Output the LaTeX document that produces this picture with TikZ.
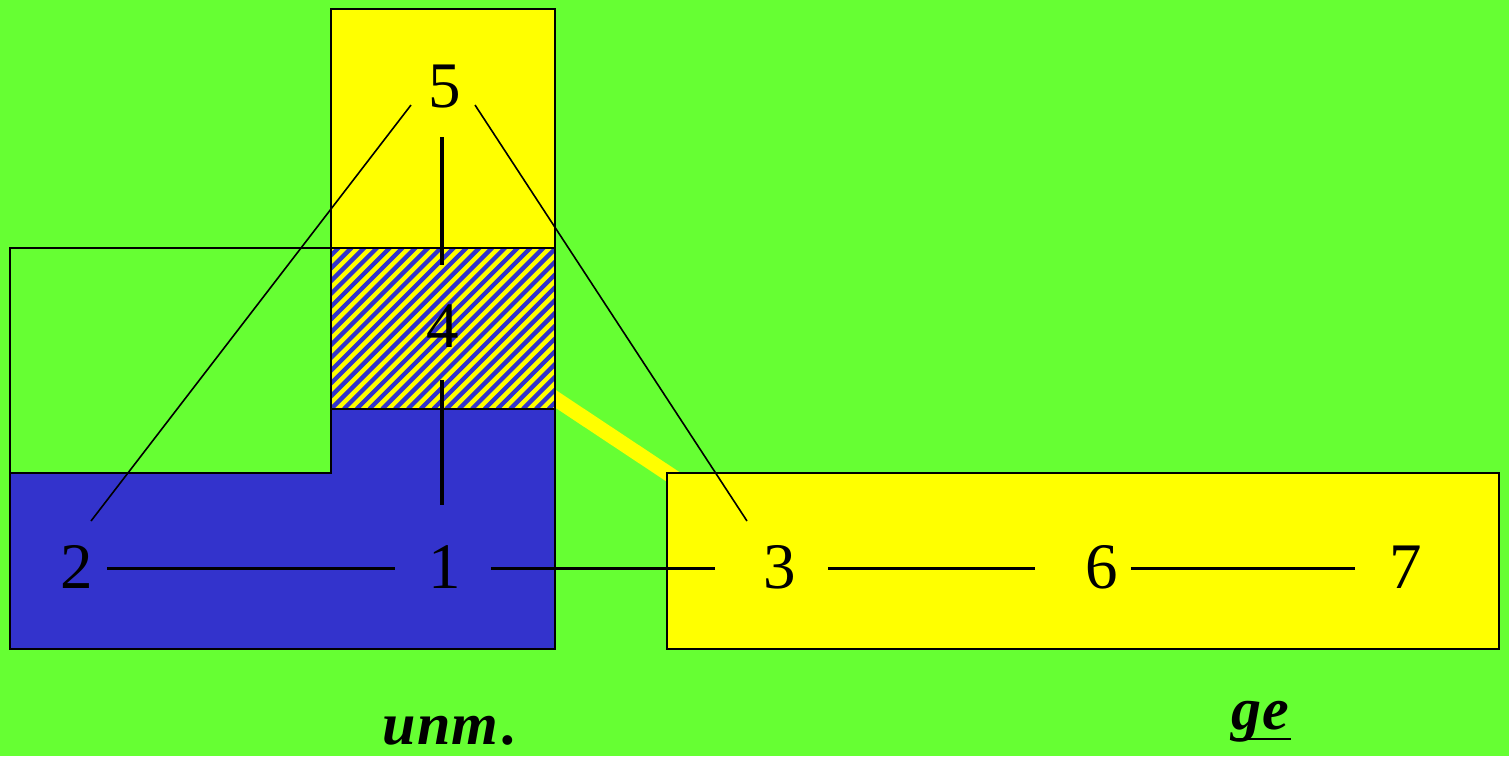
\documentclass[tikz,border=0pt]{standalone}
\usepackage{fontspec}
\setmainfont{Liberation Serif}
\usetikzlibrary{calc}
\definecolor{bggreen}{HTML}{66FF33}
\definecolor{boxyellow}{HTML}{FFFF00}
\definecolor{boxblue}{HTML}{3333CC}
\tikzset{
  digit/.style={inner sep=0pt, font=\fontsize{65}{72}\selectfont},
  thinlink/.style={line width=1.6pt},
  hlink/.style={line width=3pt},
  vlink/.style={line width=3.2pt},
  boxline/.style={line width=2.2pt},
  lbl/.style={inner sep=0pt, anchor=base, font=\fontsize{60}{66}\selectfont\bfseries\itshape}
}
\begin{document}
\begin{tikzpicture}[x=1pt,y=-1pt]
\fill[bggreen] (0,0) rectangle (1509,756);
\useasboundingbox (0,0) rectangle (1509,756);
% yellow band
\draw[boxyellow, line width=15pt] (500,362) -- (720,508);
% outline rectangle
\draw[line width=1.4pt] (10,473) -- (10,248) -- (331,248);
% blue L shape
\filldraw[fill=boxblue, boxline] (10,473) -- (331,473) -- (331,409) -- (555,409) -- (555,649) -- (10,649) -- cycle;
% top yellow box
\filldraw[fill=boxyellow, boxline] (331,9) rectangle (555,248);
% hatched box
\fill[boxyellow] (331,248) rectangle (555,409);
\begin{scope}
  \clip (331,248) rectangle (555,409);
  \foreach \i in {-15,...,22} {
    \draw[boxblue, line width=4.3pt] ({331+\i*12.8},409) -- ++(180,-180);
  }
\end{scope}
\draw[boxline] (331,248) rectangle (555,409);
% right yellow box
\filldraw[fill=boxyellow, boxline] (667,473) rectangle (1499,649);
% digits
\node[digit] (n5) at (445,87) {5};
\node[digit] (n4) at (443,326) {4};
\node[digit] (n2) at (77,567) {2};
\node[digit] (n1) at (445,567) {1};
\node[digit] (n3) at (780,567) {3};
\node[digit] (n6) at (1102,567) {6};
\node[digit] (n7) at (1406,567) {7};
% connectors
\draw[thinlink] ($(n5)+(-34,18)$) -- ($(n2)+(14,-46)$);
\draw[thinlink] ($(n5)+(30,18)$) -- ($(n3)+(-33,-46)$);
\draw[vlink] ($(n5)+(-3,50)$) -- ($(n4)+(-1,-61)$);
\draw[vlink] ($(n4)+(-1,54)$) -- ($(n1)+(-3,-62)$);
\draw[hlink] ($(n2)+(30,1)$) -- ($(n1)+(-50,1)$);
\draw[hlink] ($(n1)+(46,1)$) -- ($(n3)+(-65,1)$);
\draw[hlink] ($(n3)+(48,1)$) -- ($(n6)+(-67,1)$);
\draw[hlink] ($(n6)+(29,1)$) -- ($(n7)+(-51,1)$);
% labels
\node[lbl] (l1) at (450,744) {u\kern1pt n\kern1pt m\kern4pt.};
\node[lbl] (l2) at (1260,729) {g\kern1pt e};
\draw[line width=2.6pt] ($(l2.base west)+(-1,10)$) -- ($(l2.base east)+(2,10)$);
\end{tikzpicture}
\end{document}
